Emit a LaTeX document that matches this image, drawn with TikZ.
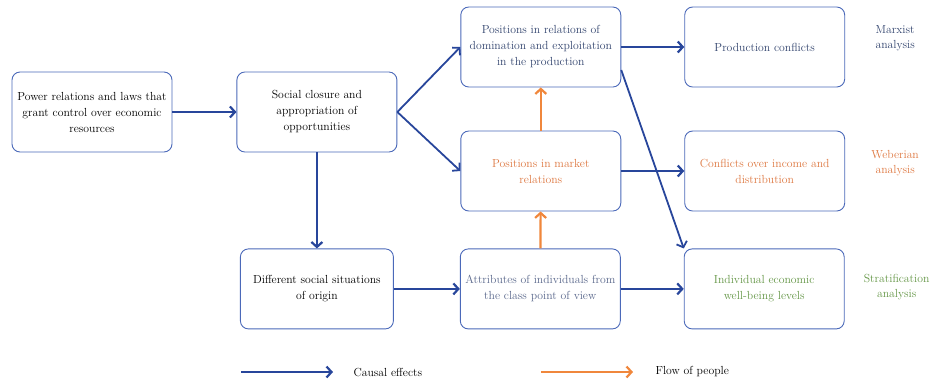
\documentclass[tikz,border=0pt]{standalone}
\usepackage{xcolor}
\usepackage{tikz}
\usetikzlibrary{positioning,calc,arrows.meta}
\definecolor{causalblue}{RGB}{40, 70, 155}
\definecolor{frameblue}{RGB}{75, 105, 185}
\definecolor{floworange}{RGB}{240, 135, 60}
\definecolor{marxnavy}{RGB}{50, 68, 110}
\definecolor{weberorange}{RGB}{222, 120, 65}
\definecolor{attrslate}{RGB}{90, 104, 140}
\definecolor{stratgreen}{RGB}{100, 150, 70}

\begin{document}
\begin{tikzpicture}[
  box/.style={rectangle, rounded corners=8pt, draw=frameblue, line width=0.9pt, fill=white,
    minimum width=160pt, minimum height=80pt, align=center, font=\fontsize{11.7}{16}\selectfont},
  tag/.style={align=center, font=\fontsize{11.7}{15}\selectfont},
  arrow/.style={-{Straight Barb[length=5pt,width=11pt]}, line width=2.2pt, color=causalblue},
  flow/.style={-{Straight Barb[length=5pt,width=11pt]}, line width=2.2pt, color=floworange}
]
  \useasboundingbox (0,0) rectangle (932pt,-384pt);

  \node[box] (power) at (92pt,-112pt) {Power relations and laws that\\grant control over economic\\resources};
  \node[box, right=64pt of power] (closure) {Social closure and\\appropriation of\\opportunities};
  \node[box, right=63pt of closure, yshift=65pt, text=marxnavy] (domin) {Positions in relations of\\domination and exploitation\\in the production};
  \node[box, right=63pt of closure, yshift=-59pt, text=weberorange] (market) {Positions in market\\relations};
  \node[box, right=63pt of domin, text=marxnavy] (prodconf) {Production conflicts};
  \node[box, right=63pt of market, text=weberorange] (income) {Conflicts over income and\\distribution};
  \node[box, below=96pt of closure, minimum width=153pt] (origin) {Different social situations\\of origin};
  \node[box, right=66pt of origin, text=attrslate] (attrib) {Attributes of individuals from\\the class point of view};
  \node[box, right=63pt of attrib, text=stratgreen] (wellbeing) {Individual economic\\well-being levels};

  \node[tag, text=marxnavy] (marxist) at ($(prodconf.east)+(50pt,9pt)$) {Marxist\\analysis};
  \node[tag, text=weberorange] (weberian) at ($(income.east)+(50pt,8pt)$) {Weberian\\analysis};
  \node[tag, text=stratgreen] (stratif) at ($(wellbeing.east)+(52pt,2pt)$) {Stratification\\analysis};

  \draw[arrow] (power) -- (closure);
  \draw[arrow, line width=1.8pt] (closure.east) -- (domin.west);
  \draw[arrow, line width=1.8pt] (closure.east) -- (market.west);
  \draw[arrow] (closure) -- (origin);
  \draw[arrow] (domin) -- (prodconf);
  \draw[arrow] (market) -- (income);
  \draw[arrow, line width=1.8pt] ([yshift=-23pt]domin.east) -- (wellbeing.north west);
  \draw[arrow] (origin) -- (attrib);
  \draw[arrow] (attrib) -- (wellbeing);
  \draw[flow] (attrib) -- (market);
  \draw[flow] (market) -- (domin);

  \coordinate (causalA) at (241pt,-372pt);
  \coordinate (causalB) at (333pt,-372pt);
  \coordinate (flowA) at (541pt,-372pt);
  \coordinate (flowB) at (633pt,-372pt);
  \draw[arrow] (causalA) -- (causalB);
  \draw[flow] (flowA) -- (flowB);
  \node[tag, anchor=west] (causallbl) at ($(causalB)+(17pt,0)$) {Causal effects};
  \node[tag, anchor=west] (flowlbl) at ($(flowB)+(19pt,0)$) {Flow of people};
\end{tikzpicture}
\end{document}
